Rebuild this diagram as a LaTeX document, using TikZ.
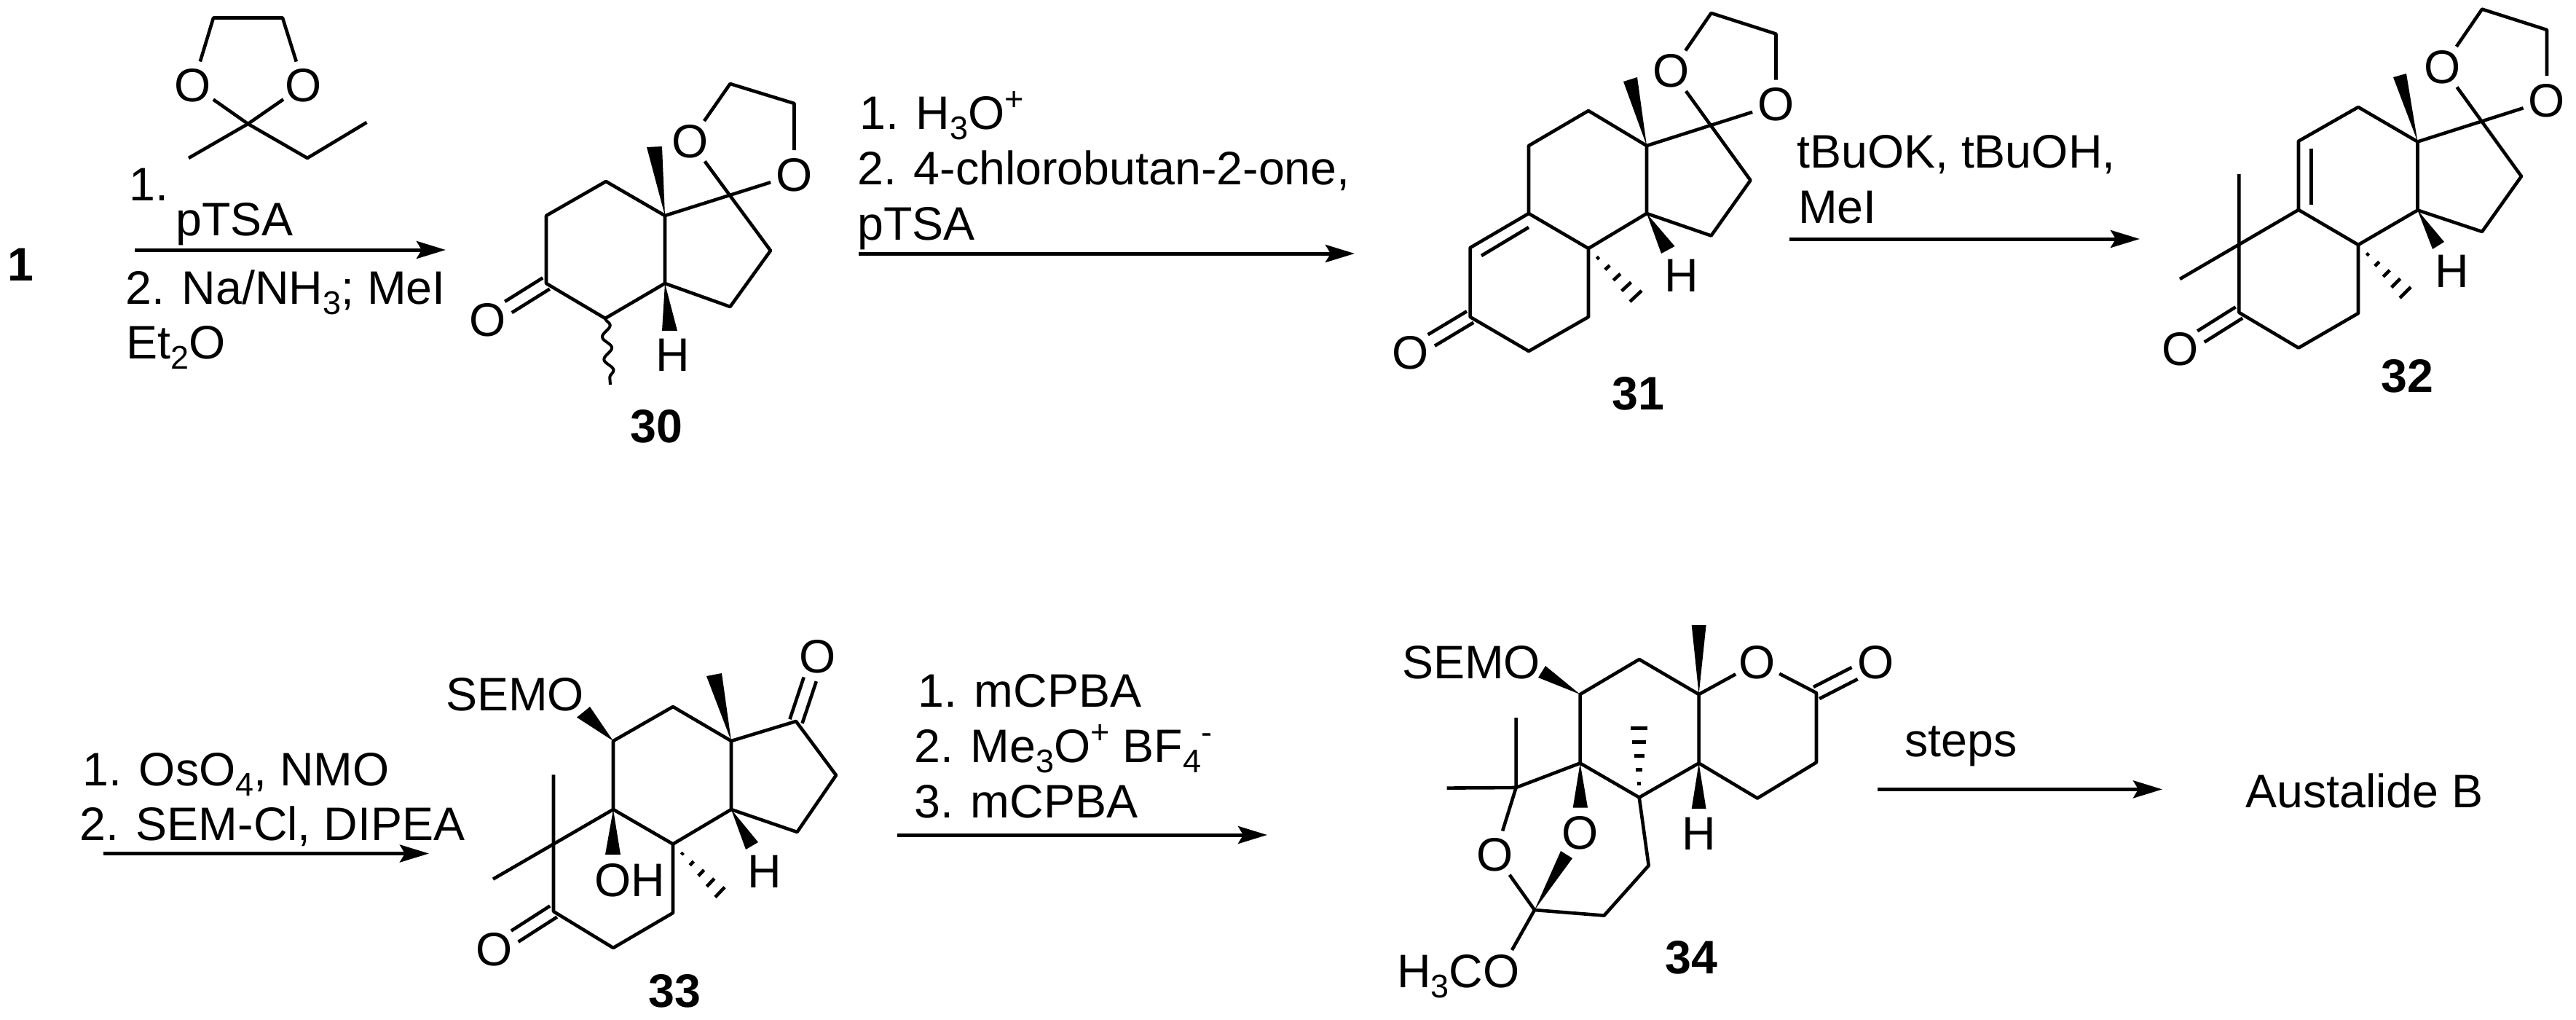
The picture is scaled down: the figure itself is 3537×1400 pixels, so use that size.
\documentclass[tikz,border=0pt]{standalone}
\usepackage{fontspec}
\setmainfont{Liberation Sans}
\usetikzlibrary{calc,arrows.meta,decorations.pathmorphing}
\newcommand\chemsub[1]{\raisebox{-14.5pt}{\fontsize{45}{45}\selectfont #1}}
\newcommand\chemsup[1]{\raisebox{26pt}{\fontsize{45}{45}\selectfont #1}}
\newcommand\wdg[3]{\fill (#1.center) -- #2 -- #3 -- cycle;}
\newcommand\hashw[3]{\foreach \t in {0.2,0.4,0.6,0.8,1}{\draw[hashline] ($(#1.center)!\t!#2$) -- ($(#1.center)!\t!#3$);}}
\newcommand\dblbond[2]{%
  \draw[bond,shorten >=33pt] ($(#1.center)!9pt!90:(#2.center)$) -- ($(#2.center)!9pt!-90:(#1.center)$);
  \draw[bond,shorten >=33pt] ($(#1.center)!9pt!-90:(#2.center)$) -- ($(#2.center)!9pt!90:(#1.center)$);}
\tikzset{
  bond/.style={line width=4.6pt,line join=round,line cap=butt},
  hashline/.style={line width=4.6pt},
  rxn/.style={line width=5pt,-{Stealth[length=40pt,width=24pt,inset=7pt]}},
  wavy/.style={line width=4pt,decorate,decoration={snake,amplitude=6pt,segment length=31pt}},
  atom/.style={circle,inner sep=0pt,minimum size=66pt,font=\fontsize{64.5}{70}\selectfont},
  lab/.style={inner sep=0pt,anchor=base,font=\fontsize{64.5}{70}\selectfont},
  cond/.style={inner sep=0pt,anchor=base west,font=\fontsize{64.5}{70}\selectfont},
  num/.style={inner sep=0pt,anchor=base,font=\fontsize{64.5}{70}\selectfont\bfseries}
}
\begin{document}
\begin{tikzpicture}[x=1pt,y=-1pt]
\useasboundingbox[fill=white] (0,0) rectangle (3537,1400);
% ---------- compound 1 label and first reagent
\node[num] (n1) at (28,385) {1};
\node[atom] (rO1) at (265,117) {O};
\node[atom] (rO2) at (417,117) {O};
\coordinate (rA) at (293,24.5);
\coordinate (rB) at (388,24.5);
\coordinate (rC) at (340.5,170);
\coordinate (rD) at (259,217);
\coordinate (rE) at (422,217);
\coordinate (rF) at (503.5,168);
\draw[bond] (rO1) -- (rA) -- (rB) -- (rO2);
\draw[bond] (rO1) -- (rC) -- (rO2);
\draw[bond] (rD) -- (rC) -- (rE) -- (rF);
\node[cond] (t1) at (177,275) {1.};
\node[cond] (t2) at (241,323) {pTSA};
\node[cond] (t3) at (172,417) {2. Na/NH\chemsub{3}; MeI};
\node[cond] (t4) at (173,492) {Et\chemsub{2}O};
\coordinate (ar1s) at (185,343);
\coordinate (ar1e) at (612,343);
\draw[rxn] (ar1s) -- (ar1e);
% ---------- compound 30
\coordinate (a1) at (913,296);
\coordinate (a2) at (832,249);
\coordinate (a3) at (750,296);
\coordinate (a4) at (750,389);
\coordinate (a5) at (831,437);
\coordinate (a6) at (913,389);
\coordinate (a7) at (1058,344);
\coordinate (a8) at (1002.5,421);
\coordinate (a9) at (1002.5,115);
\coordinate (a10) at (1090.5,142);
\coordinate (a11) at (838,528);
\node[atom] (aO1) at (947.5,194) {O};
\node[atom] (aO2) at (1090.5,240) {O};
\node[atom] (aO3) at (670,439) {O};
\draw[bond] (a1) -- (a2) -- (a3) -- (a4) -- (a5) -- (a6) -- cycle;
\draw[bond] (a6) -- (a8) -- (a7) -- (aO1);
\draw[bond] (a1) -- (aO2);
\draw[bond] (aO1) -- (a9) -- (a10) -- (aO2);
\dblbond{a4}{aO3}
\draw[wavy] (a5) -- (a11);
\wdg{a1}{(888,202)}{(909,201)}
\wdg{a6}{(909,454)}{(930,454)}
\node[lab] (aH) at (924,509) {H};
\node[num] (n30) at (901.5,607) {30};
% ---------- second arrow
\node[cond] (t5) at (1180,177) {1. H\chemsub{3}O\chemsup{+}};
\node[cond] (t6) at (1177,253) {2. 4-chlorobutan-2-one,};
\node[cond] (t7) at (1177,329) {pTSA};
\coordinate (ar2s) at (1179,348);
\coordinate (ar2e) at (1860,348);
\draw[rxn] (ar2s) -- (ar2e);
% ---------- compound 31
\coordinate (b1) at (2261,200);
\coordinate (b2) at (2181,152);
\coordinate (b3) at (2099,200);
\coordinate (b4) at (2099,293);
\coordinate (b5) at (2181,341);
\coordinate (b6) at (2261,293);
\coordinate (b7) at (2018.6,340);
\coordinate (b8) at (2018.6,435);
\coordinate (b9) at (2099,482);
\coordinate (b10) at (2181,435);
\coordinate (bi1) at (2099,312);
\coordinate (bi2) at (2034,351);
\coordinate (b11) at (2403.5,247.5);
\coordinate (b12) at (2349.5,323.5);
\coordinate (b13) at (2349.5,18);
\coordinate (b14) at (2438.5,46.5);
\node[atom] (bO1) at (2295,97.5) {O};
\node[atom] (bO2) at (2438.5,143.5) {O};
\node[atom] (bO3) at (1937,484) {O};
\draw[bond] (b1) -- (b2) -- (b3) -- (b4) -- (b5) -- (b6) -- cycle;
\draw[bond] (b4) -- (b7) -- (b8) -- (b9) -- (b10) -- (b5);
\draw[bond] (bi1) -- (bi2);
\draw[bond] (b6) -- (b12) -- (b11) -- (bO1);
\draw[bond] (b1) -- (bO2);
\draw[bond] (bO1) -- (b13) -- (b14) -- (bO2);
\dblbond{b8}{bO3}
\wdg{b1}{(2229,112)}{(2248,106)}
\wdg{b6}{(2281,348)}{(2299.5,338)}
\hashw{b5}{(2238,414)}{(2254,399)}
\node[lab] (bH) at (2309,400) {H};
\node[num] (n31) at (2249.7,562) {31};
% ---------- third arrow
\node[cond] (t8) at (2467,230) {tBuOK, tBuOH,};
\node[cond] (t9) at (2469,306) {MeI};
\coordinate (ar3s) at (2456.6,328);
\coordinate (ar3e) at (2938,328);
\draw[rxn] (ar3s) -- (ar3e);
% ---------- compound 32
\coordinate (c1) at (3319.5,194.5);
\coordinate (c2) at (3238,147);
\coordinate (c3) at (3156,193.7);
\coordinate (c4) at (3156,288);
\coordinate (c5) at (3238,336);
\coordinate (c6) at (3319.5,288.5);
\coordinate (c7) at (3074.4,336);
\coordinate (c8) at (3074.4,429);
\coordinate (c9) at (3156,477.5);
\coordinate (c10) at (3238,430);
\coordinate (ci1) at (3173.7,203.5);
\coordinate (ci2) at (3173.7,280.6);
\coordinate (c11) at (3462,242);
\coordinate (c12) at (3408,318);
\coordinate (c13) at (3408,12.6);
\coordinate (c14) at (3497,41);
\coordinate (c15) at (3074.4,239);
\coordinate (c16) at (2993,383);
\node[atom] (cO1) at (3353.6,92) {O};
\node[atom] (cO2) at (3497,138) {O};
\node[atom] (cO3) at (2994,479.5) {O};
\draw[bond] (c1) -- (c2) -- (c3) -- (c4) -- (c5) -- (c6) -- cycle;
\draw[bond] (c4) -- (c16);
\draw[bond] (c15) -- (c8) -- (c9) -- (c10) -- (c5);
\draw[bond] (ci1) -- (ci2);
\draw[bond] (c6) -- (c12) -- (c11) -- (cO1);
\draw[bond] (c1) -- (cO2);
\draw[bond] (cO1) -- (c13) -- (c14) -- (cO2);
\dblbond{c8}{cO3}
\wdg{c1}{(3286,106)}{(3304,101)}
\wdg{c6}{(3340,342)}{(3356,332)}
\hashw{c5}{(3295,409)}{(3310,394)}
\node[lab] (cH) at (3366.7,394.5) {H};
\node[num] (n32) at (3305,538) {32};
% ---------- fourth arrow
\node[cond] (t10) at (113,1078) {1. OsO\chemsub{4}, NMO};
\node[cond] (t11) at (109,1153) {2. SEM-Cl, DIPEA};
\coordinate (ar4s) at (141.6,1171.5);
\coordinate (ar4e) at (589,1171.5);
\draw[rxn] (ar4s) -- (ar4e);
% ---------- compound 33
\coordinate (d1) at (842,1017);
\coordinate (d2) at (924,970);
\coordinate (d3) at (1004,1017);
\coordinate (d4) at (1004,1111);
\coordinate (d5) at (924,1158.5);
\coordinate (d6) at (842,1111);
\coordinate (d7) at (760,1158.5);
\coordinate (d8) at (760,1251);
\coordinate (d9) at (842,1301);
\coordinate (d10) at (924,1253);
\coordinate (d11) at (760,1063.4);
\coordinate (d12) at (677,1206.6);
\coordinate (d13) at (1093,990);
\coordinate (d14) at (1148,1064);
\coordinate (d15) at (1094.5,1142);
\node[atom] (dO1) at (679,1303) {O};
\node[atom] (dO2) at (1122.7,901) {O};
\draw[bond] (d1) -- (d2) -- (d3) -- (d4) -- (d5) -- (d6) -- cycle;
\draw[bond] (d6) -- (d12);
\draw[bond] (d11) -- (d8) -- (d9) -- (d10) -- (d5);
\draw[bond] (d3) -- (d13) -- (d14) -- (d15) -- (d4);
\dblbond{d8}{dO1}
\dblbond{d13}{dO2}
\wdg{d3}{(970,928)}{(991,924)}
\wdg{d1}{(792,984.6)}{(810,970)}
\wdg{d6}{(831,1173)}{(852,1173)}
\wdg{d4}{(1024,1166)}{(1041,1156)}
\hashw{d5}{(982,1231.4)}{(995,1217.7)}
\node[cond] (dS) at (612,975) {SEMO};
\node[lab] (dOH) at (865,1230) {OH};
\node[lab] (dH) at (1050,1218) {H};
\node[num] (n33) at (926,1382) {33};
% ---------- fifth arrow
\node[cond] (t12) at (1260,970) {1. mCPBA};
\node[cond] (t13) at (1255,1046.4) {2. Me\chemsub{3}O\chemsup{+} BF\chemsub{4}\chemsup{-}};
\node[cond] (t14) at (1255,1122.6) {3. mCPBA};
\coordinate (ar5s) at (1232,1146);
\coordinate (ar5e) at (1740,1146);
\draw[rxn] (ar5s) -- (ar5e);
% ---------- compound 34
\coordinate (e1) at (2169.6,953);
\coordinate (e2) at (2250.7,905);
\coordinate (e3) at (2332.6,953);
\coordinate (e4) at (2332.6,1047.5);
\coordinate (e5) at (2250.7,1094.5);
\coordinate (e6) at (2169.6,1047.5);
\coordinate (e7) at (2081.6,1081);
\coordinate (e8) at (2081.6,985);
\coordinate (e9) at (1986.7,1081.6);
\coordinate (e10) at (2263.7,1188);
\coordinate (e11) at (2202.5,1256.6);
\coordinate (e12) at (2107,1249);
\coordinate (e13) at (2076,1304);
\coordinate (e14) at (2494,951);
\coordinate (e15) at (2494,1046.4);
\coordinate (e16) at (2413,1095.6);
\node[atom] (eO1) at (2053,1173) {O};
\node[atom] (eO2) at (2169.6,1143.7) {O};
\node[atom] (eO3) at (2413,909) {O};
\node[atom] (eO4) at (2576,909) {O};
\draw[bond] (e1) -- (e2) -- (e3) -- (e4) -- (e5) -- (e6) -- cycle;
\draw[bond] (e6) -- (e7) -- (eO1) -- (e12);
\draw[bond] (e8) -- (e7) -- (e9);
\draw[bond] (e5) -- (e10) -- (e11) -- (e12) -- (e13);
\draw[bond] (e3) -- (eO3) -- (e14) -- (e15) -- (e16) -- (e4);
\dblbond{e14}{eO4}
\wdg{e1}{(2122,914)}{(2112,930)}
\wdg{e6}{(2159.7,1108.6)}{(2180,1108.6)}
\wdg{e12}{(2143,1168)}{(2159,1178)}
\wdg{e4}{(2322.7,1110)}{(2342.6,1110)}
\wdg{e3}{(2322.7,858)}{(2342.6,858)}
\hashw{e5}{(2239,999.4)}{(2262,999.4)}
\node[cond] (eS) at (1925,931) {SEMO};
\node[cond] (eM) at (1918,1355) {H\chemsub{3}CO};
\node[lab] (eH) at (2332.6,1166) {H};
\node[num] (n34) at (2322.7,1336) {34};
% ---------- last arrow
\node[cond] (t15) at (2615,1038) {steps};
\coordinate (ar6s) at (2577.7,1083.4);
\coordinate (ar6e) at (2969,1083.4);
\draw[rxn] (ar6s) -- (ar6e);
\node[cond] (t16) at (3083,1108.6) {Austalide B};
\end{tikzpicture}
\end{document}
